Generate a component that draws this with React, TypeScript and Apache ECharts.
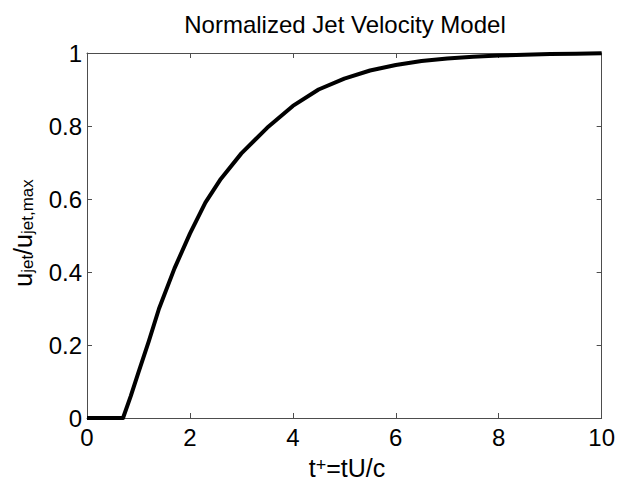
import React, { useEffect, useRef } from "react";
import * as echarts from "echarts";

const titleText = "Normalized Jet Velocity Model";
const tValues = [0, 0.7, 0.85, 1.0, 1.2, 1.4, 1.7, 2.0, 2.3, 2.6, 3.0, 3.5, 4.0, 4.5, 5.0, 5.5, 6.0, 6.5, 7.0, 7.5, 8.0, 8.5, 9.0, 9.5, 10];
const uValues = [0, 0, 0.06, 0.125, 0.21, 0.3, 0.41, 0.505, 0.59, 0.655, 0.725, 0.795, 0.855, 0.9, 0.93, 0.952, 0.967, 0.978, 0.985, 0.99, 0.993, 0.995, 0.997, 0.998, 0.999];
const xTicks = [0, 2, 4, 6, 8, 10];
const yTicks = [0, 0.2, 0.4, 0.6, 0.8, 1];

const FONT = "'Liberation Sans', Arial, Helvetica, sans-serif";
const AXIS_COLOR = "#4d4d4d";

export default function App() {
  const ref = useRef<HTMLDivElement>(null);
  useEffect(() => {
    if (!ref.current) return;
    const chart = echarts.init(ref.current, undefined, { renderer: "svg" });
    const data = tValues.map((t, i) => [t, uValues[i]]);
    const axisCommon = {
      axisLine: { show: true, onZero: false, lineStyle: { color: AXIS_COLOR, width: 1 } },
      axisTick: { show: true, inside: true, length: 5, lineStyle: { color: AXIS_COLOR, width: 1 } },
      splitLine: { show: false },
    };
    chart.setOption({
      animation: false,
      backgroundColor: "#ffffff",
      grid: { left: 87, right: 11, top: 53, bottom: 73 },
      xAxis: [
        {
          type: "value",
          min: 0,
          max: 10,
          interval: 2,
          position: "bottom",
          ...axisCommon,
          axisLabel: {
            color: "#000",
            fontFamily: FONT,
            fontSize: 24,
            margin: 7,
            formatter: (v: number) => (xTicks.includes(v) ? String(v) : ""),
          },
        },
        {
          type: "value",
          min: 0,
          max: 10,
          interval: 2,
          position: "top",
          ...axisCommon,
          axisLabel: { show: false },
        },
      ],
      yAxis: [
        {
          type: "value",
          min: 0,
          max: 1,
          interval: 0.2,
          position: "left",
          ...axisCommon,
          axisLabel: {
            color: "#000",
            fontFamily: FONT,
            fontSize: 24,
            margin: 5,
            formatter: (v: number) => {
              const r = Math.round(v * 10) / 10;
              return yTicks.includes(r) ? String(r) : "";
            },
          },
        },
        {
          type: "value",
          min: 0,
          max: 1,
          interval: 0.2,
          position: "right",
          ...axisCommon,
          axisLabel: { show: false },
        },
      ],
      series: [
        {
          type: "line",
          data,
          xAxisIndex: 0,
          yAxisIndex: 0,
          smooth: false,
          showSymbol: false,
          symbol: "none",
          lineStyle: { color: "#000", width: 4, join: "round" },
        },
      ],
      graphic: [
        {
          type: "text",
          x: 345,
          y: 24,
          style: {
            text: titleText,
            fill: "#000",
            font: `24px ${FONT}`,
            align: "center",
            verticalAlign: "middle",
          },
        },
        {
          type: "text",
          x: 347,
          y: 468,
          style: {
            text: "{b|t}{s|+}{b|=tU/c}",
            align: "center",
            verticalAlign: "middle",
            rich: {
              b: { fontSize: 25, fontFamily: FONT, fill: "#000", verticalAlign: "bottom", lineHeight: 25 },
              s: { fontSize: 18, fontFamily: FONT, fill: "#000", verticalAlign: "top", lineHeight: 18, padding: [0, 0, 12, 0] },
            },
          },
        },
        {
          type: "text",
          x: 23,
          y: 233,
          rotation: Math.PI / 2,
          style: {
            text: "{b|u}{s|jet}{b|/u}{s|jet,max}",
            align: "center",
            verticalAlign: "middle",
            rich: {
              b: { fontSize: 25, fontFamily: FONT, fill: "#000", verticalAlign: "top", lineHeight: 25 },
              s: { fontSize: 17, fontFamily: FONT, fill: "#000", verticalAlign: "bottom", lineHeight: 17, padding: [12, 0, 0, 0] },
            },
          },
        },
      ],
    });
    return () => chart.dispose();
  }, []);
  return <div ref={ref} style={{ position: "fixed", left: 0, top: 0, width: 618, height: 491 }} />;
}
